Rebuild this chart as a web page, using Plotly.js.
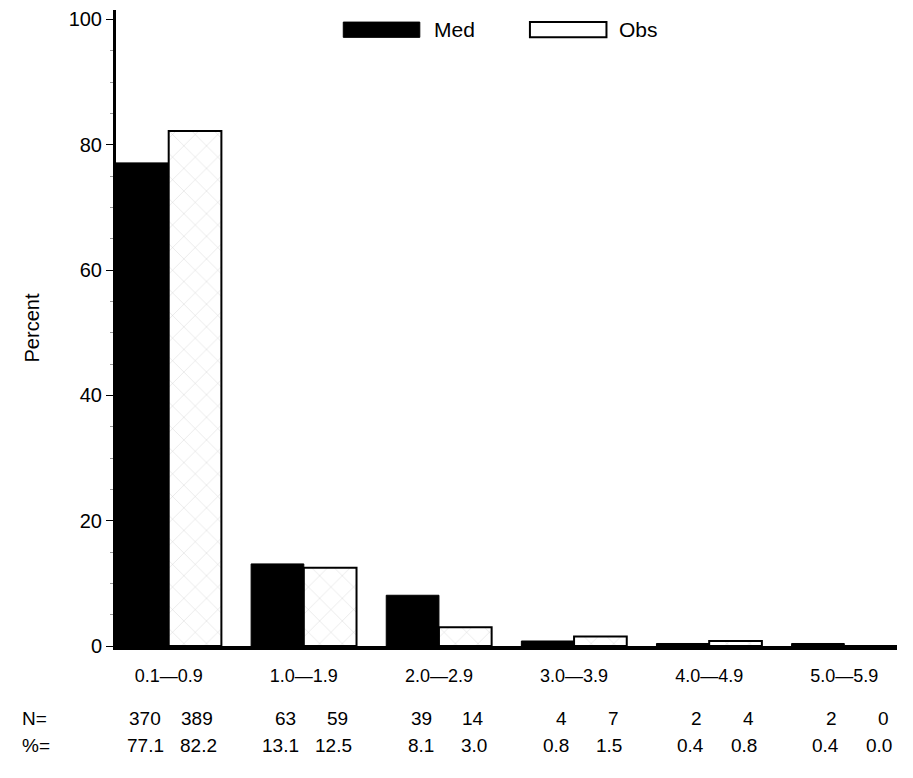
<!DOCTYPE html>
<html>
<head>
<meta charset="utf-8">
<script src="https://cdn.plot.ly/plotly-3.0.1.min.js"></script>
<style>
  body { margin: 0; background: #fff; }
  #chart { width: 913px; height: 778px; }
</style>
</head>
<body>
<div id="chart"></div>
<script>
// data
const categories = ["0.1—0.9", "1.0—1.9", "2.0—2.9", "3.0—3.9", "4.0—4.9", "5.0—5.9"];
const medN   = [370, 63, 39, 4, 2, 2];
const obsN   = [389, 59, 14, 7, 4, 0];
const medPct = [77.1, 13.1, 8.1, 0.8, 0.4, 0.4];
const obsPct = [82.2, 12.5, 3.0, 1.5, 0.8, 0.0];

const FONT = "Liberation Sans, Arial, sans-serif";
const idx = categories.map((c, i) => i);

const traces = [
  {
    type: "bar",
    name: "Med",
    x: idx,
    y: medPct,
    marker: { color: "#000", line: { color: "#000", width: 1 } },
    hoverinfo: "skip"
  },
  {
    type: "bar",
    name: "Obs",
    x: idx,
    y: obsPct,
    marker: {
      color: "#fff",
      line: { color: "#000", width: 2 },
      pattern: { shape: "x", fgcolor: "#cfcfcf", bgcolor: "#fff", size: 16, solidity: 0.05 }
    },
    hoverinfo: "skip"
  }
];

// count / percent table under the axis
const annotations = [];
const rowN = -0.114, rowP = -0.156;
const tFont = { family: FONT, size: 19, color: "#000" };
annotations.push({ xref: "paper", yref: "paper", x: -0.123, y: rowN, xanchor: "left", yanchor: "middle",
  text: "N=", showarrow: false, font: tFont });
annotations.push({ xref: "paper", yref: "paper", x: -0.123, y: rowP, xanchor: "left", yanchor: "middle",
  text: "%=", showarrow: false, font: tFont });
idx.forEach(i => {
  [[medN[i], rowN, i - 0.04], [obsN[i], rowN, i + 0.345],
   [medPct[i].toFixed(1), rowP, i - 0.022], [obsPct[i].toFixed(1), rowP, i + 0.37]].forEach(([t, yy, xx]) => {
    annotations.push({ xref: "x", yref: "paper", x: xx, y: yy, xanchor: "right", yanchor: "middle",
      text: String(t), showarrow: false, font: tFont });
  });
});

// custom legend
annotations.push({ xref: "paper", yref: "paper", x: 0.405, y: 0.969, xanchor: "left", yanchor: "middle",
  text: "Med", showarrow: false, font: { family: FONT, size: 21, color: "#000" } });
annotations.push({ xref: "paper", yref: "paper", x: 0.642, y: 0.969, xanchor: "left", yanchor: "middle",
  text: "Obs", showarrow: false, font: { family: FONT, size: 21, color: "#000" } });

const shapes = [
  { type: "rect", xref: "paper", yref: "paper", x0: 0.291, x1: 0.389, y0: 0.957, y1: 0.981,
    fillcolor: "#000", line: { color: "#000", width: 1 } },
  { type: "rect", xref: "paper", yref: "paper", x0: 0.530, x1: 0.628, y0: 0.957, y1: 0.981,
    fillcolor: "#fff", line: { color: "#000", width: 2 } }
];

const layout = {
  width: 913,
  height: 778,
  margin: { l: 116, r: 16, t: 10, b: 132 },
  paper_bgcolor: "#fff",
  plot_bgcolor: "#fff",
  showlegend: false,
  barmode: "group",
  bargap: 0.22,
  bargroupgap: 0,
  font: { family: FONT, color: "#000" },
  xaxis: {
    range: [-0.39, 5.39],
    tickmode: "array",
    tickvals: idx,
    ticktext: categories,
    ticks: "",
    showgrid: false,
    zeroline: false,
    showline: true,
    linecolor: "#000",
    linewidth: 4,
    tickfont: { family: FONT, size: 18, color: "#000" },
    ticklabelstandoff: 10
  },
  yaxis: {
    range: [0, 101.5],
    tickvals: [0, 20, 40, 60, 80, 100],
    ticks: "outside",
    ticklen: 7,
    tickwidth: 1,
    tickcolor: "#000",
    minor: { dtick: 5, ticks: "outside", ticklen: 3, tickcolor: "#999", tickwidth: 1 },
    showgrid: false,
    zeroline: false,
    showline: true,
    linecolor: "#000",
    linewidth: 3,
    tickfont: { family: FONT, size: 20, color: "#000" },
    title: { text: "Percent", font: { family: FONT, size: 20, color: "#000" }, standoff: 24 }
  },
  annotations: annotations,
  shapes: shapes
};

Plotly.newPlot("chart", traces, layout, { displayModeBar: false, staticPlot: true });
</script>
</body>
</html>
